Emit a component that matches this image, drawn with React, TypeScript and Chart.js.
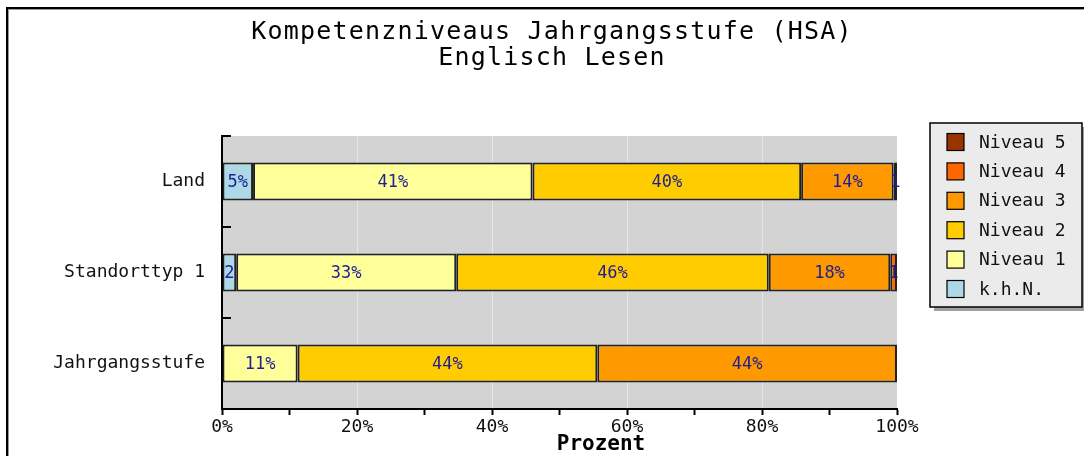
import React, { useEffect, useRef } from "react";
import { Chart, registerables } from "chart.js";

Chart.register(...registerables);

const categories = ["Land", "Standorttyp 1", "Jahrgangsstufe"];
const seriesNames = ["k.h.N.", "Niveau 1", "Niveau 2", "Niveau 3", "Niveau 4", "Niveau 5"];
const seriesColors = ["#add8e6", "#ffff99", "#ffcc00", "#ff9900", "#ff6600", "#993300"];
const khnValues = [4.6, 2.1, 0];
const niveau1Values = [41.4, 32.6, 11.2];
const niveau2Values = [39.8, 46.3, 44.4];
const niveau3Values = [13.7, 18.0, 44.4];
const niveau4Values = [0.5, 1.0, 0];
const niveau5Values = [0, 0, 0];
const xTickValues = [0, 20, 40, 60, 80, 100];
const titleLines = ["Kompetenzniveaus Jahrgangsstufe (HSA)", "Englisch Lesen"];
const xAxisTitle = "Prozent";

const MONO = '"DejaVu Sans Mono", "Liberation Mono", monospace';

const decorPlugin = {
  id: "decor",
  beforeDraw(chart: any) {
    const { ctx, chartArea } = chart;
    ctx.save();
    ctx.fillStyle = "#ffffff";
    ctx.fillRect(0, 0, chart.width, chart.height);
    // outer frame (top & left)
    ctx.fillStyle = "#000";
    ctx.fillRect(6, 7, chart.width - 6, 2);
    ctx.fillRect(6, 7, 2, chart.height - 7);
    ctx.fillStyle = "#9a9a9a";
    ctx.fillRect(8, 9, chart.width - 8, 1);
    ctx.fillRect(8, 9, 1, chart.height - 9);
    // plot background
    ctx.fillStyle = "#d3d3d3";
    ctx.fillRect(chartArea.left, chartArea.top, chartArea.right - chartArea.left, chartArea.bottom - chartArea.top);
    // title
    ctx.fillStyle = "#000";
    ctx.font = `25px ${MONO}`;
    (ctx as any).letterSpacing = "1.2px";
    ctx.textAlign = "center";
    ctx.textBaseline = "middle";
    ctx.fillText(titleLines[0], 552, 32);
    ctx.fillText(titleLines[1], 552, 58);
    (ctx as any).letterSpacing = "0px";
    ctx.restore();
  },
  afterDatasetsDraw(chart: any) {
    const { ctx, chartArea } = chart;
    const yScale = chart.scales.y;
    ctx.save();
    // inward ticks on y axis at category boundaries
    ctx.strokeStyle = "#000";
    ctx.lineWidth = 2;
    for (let i = 0; i < categories.length; i++) {
      const y = Math.round(yScale.getPixelForValue(i - 0.5));
      ctx.beginPath();
      ctx.moveTo(chartArea.left, y);
      ctx.lineTo(chartArea.left + 9, y);
      ctx.stroke();
    }
    // segment labels
    ctx.font = `17px ${MONO}`;
    ctx.fillStyle = "#1e1e96";
    ctx.textAlign = "center";
    ctx.textBaseline = "middle";
    chart.data.datasets.forEach((ds: any, di: number) => {
      const meta = chart.getDatasetMeta(di);
      meta.data.forEach((bar: any, i: number) => {
        const v = ds.data[i];
        if (!v) return;
        const full = Math.round(v) + "%";
        const left = Math.min(bar.x, bar.base);
        const w = Math.abs(bar.x - bar.base);
        let txt = full;
        while (txt.length > 1 && ctx.measureText(txt).width > w - 2) txt = txt.slice(0, -1);
        ctx.fillText(txt, left + w / 2, bar.y + 1);
      });
    });
    ctx.restore();
  },
  afterDraw(chart: any) {
    const { ctx } = chart;
    ctx.save();
    // x axis title
    ctx.fillStyle = "#000";
    ctx.font = `bold 21px ${MONO}`;
    ctx.textAlign = "center";
    ctx.textBaseline = "middle";
    ctx.fillText(xAxisTitle, 601, 445);
    // legend box
    const bx = 930, by = 123, bw = 152, bh = 184;
    ctx.fillStyle = "#a0a0a0";
    ctx.fillRect(bx + 4, by + 4, bw, bh);
    ctx.fillStyle = "#ebebeb";
    ctx.fillRect(bx, by, bw, bh);
    ctx.strokeStyle = "#000";
    ctx.lineWidth = 1.5;
    ctx.strokeRect(bx, by, bw, bh);
    const ds = chart.data.datasets;
    ctx.font = `18px ${MONO}`;
    ctx.textAlign = "left";
    for (let k = 0; k < ds.length; k++) {
      const d = ds[ds.length - 1 - k];
      const cy = 142 + k * 29.4;
      ctx.fillStyle = d.backgroundColor;
      ctx.fillRect(947, cy - 8.5, 17, 17);
      ctx.strokeStyle = "#000";
      ctx.lineWidth = 1.2;
      ctx.strokeRect(947, cy - 8.5, 17, 17);
      ctx.fillStyle = "#111";
      ctx.fillText(d.label, 979, cy + 1);
    }
    ctx.restore();
  },
};

export default function App() {
  const ref = useRef<HTMLCanvasElement | null>(null);
  useEffect(() => {
    if (!ref.current) return;
    const seriesValues = [khnValues, niveau1Values, niveau2Values, niveau3Values, niveau4Values, niveau5Values];
    const chart = new Chart(ref.current, {
      type: "bar",
      data: {
        labels: categories,
        datasets: seriesNames.map((name, i) => ({
          label: name,
          data: seriesValues[i],
          backgroundColor: seriesColors[i],
          borderColor: "#222",
          borderWidth: 2,
          borderSkipped: false,
          barPercentage: 0.415,
          categoryPercentage: 1,
        })),
      },
      options: {
        indexAxis: "y",
        responsive: false,
        animation: false,
        devicePixelRatio: 1,
        layout: { padding: { left: 0, top: 136, right: 187, bottom: 0 } },
        plugins: {
          legend: { display: false },
          title: { display: false },
          tooltip: { enabled: false },
        },
        scales: {
          x: {
            stacked: true,
            min: 0,
            max: 100,
            afterFit: (s: any) => { s.height = 47; },
            afterBuildTicks: (s: any) => {
              const t: any[] = [];
              for (let v = 0; v <= 100; v += 10) t.push({ value: v });
              s.ticks = t;
            },
            ticks: {
              autoSkip: false,
              maxRotation: 0,
              padding: 2,
              color: "#111",
              font: { family: MONO, size: 18 },
              callback: (v: any) => (xTickValues.includes(Number(v)) ? v + "%" : ""),
            },
            grid: {
              drawOnChartArea: true,
              color: (c: any) => {
                const v = c.tick ? c.tick.value : 0;
                return v % 20 === 0 && v !== 0 && v !== 100 ? "#e6e6e6" : "rgba(0,0,0,0)";
              },
              lineWidth: 1,
              tickColor: "#000",
              tickLength: 6,
              tickWidth: 2,
            },
            border: { display: true, color: "#000", width: 2 },
          },
          y: {
            stacked: true,
            afterFit: (s: any) => { s.width = 222; },
            ticks: {
              padding: 17,
              color: "#111",
              font: { family: MONO, size: 18 },
            },
            grid: { display: true, drawOnChartArea: false, drawTicks: false, color: "rgba(0,0,0,0)" },
            border: { display: true, color: "#000", width: 2 },
          },
        },
      },
      plugins: [decorPlugin],
    } as any);
    return () => chart.destroy();
  }, []);
  return (
    <div style={{ position: "absolute", left: 0, top: 0, width: 1084, height: 456 }}>
      <canvas ref={ref} width={1084} height={456} style={{ width: 1084, height: 456, display: "block" }} />
    </div>
  );
}
